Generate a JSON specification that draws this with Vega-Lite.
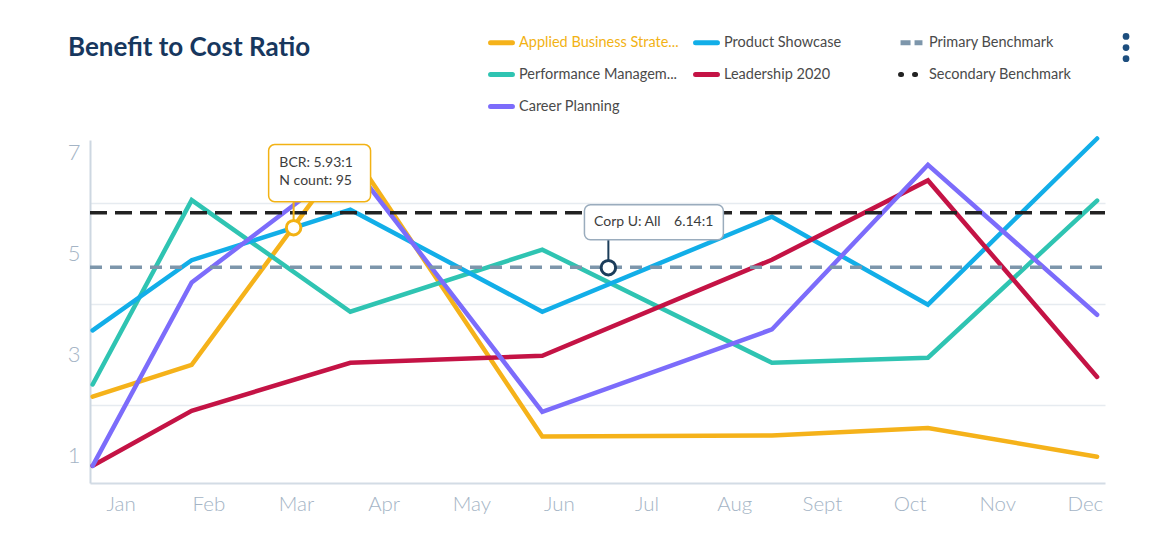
{
  "$schema": "https://vega.github.io/schema/vega-lite/v6.json",
  "width": 1015,
  "height": 343,
  "autosize": {"type": "none"},
  "padding": {"left": 90, "top": 140, "right": 44, "bottom": 54},
  "background": "white",
  "title": {
    "text": "Benefit to Cost Ratio",
    "anchor": "start",
    "frame": "group",
    "dx": -22,
    "offset": -53,
    "baseline": "alphabetic",
    "font": "Lato",
    "fontSize": 26,
    "fontWeight": "bold",
    "color": "#17375e"
  },
  "config": {
    "view": {"stroke": null},
    "font": "Lato",
    "axis": {"title": null, "ticks": false, "labelFont": "Lato"}
  },
  "datasets": {
    "series": [
      {"s": "Applied Business Strate...", "x": -0.32, "y": 2.16},
      {"s": "Applied Business Strate...", "x": 0.81, "y": 2.79},
      {"s": "Applied Business Strate...", "x": 2.62, "y": 7.05},
      {"s": "Applied Business Strate...", "x": 4.81, "y": 1.37},
      {"s": "Applied Business Strate...", "x": 7.43, "y": 1.39},
      {"s": "Applied Business Strate...", "x": 9.21, "y": 1.54},
      {"s": "Applied Business Strate...", "x": 11.14, "y": 0.97},
      {"s": "Performance Managem...", "x": -0.32, "y": 2.40},
      {"s": "Performance Managem...", "x": 0.81, "y": 6.05},
      {"s": "Performance Managem...", "x": 2.62, "y": 3.84},
      {"s": "Performance Managem...", "x": 4.81, "y": 5.07},
      {"s": "Performance Managem...", "x": 7.43, "y": 2.83},
      {"s": "Performance Managem...", "x": 9.21, "y": 2.93},
      {"s": "Performance Managem...", "x": 11.14, "y": 6.04},
      {"s": "Product Showcase", "x": -0.32, "y": 3.47},
      {"s": "Product Showcase", "x": 0.81, "y": 4.86},
      {"s": "Product Showcase", "x": 2.62, "y": 5.86},
      {"s": "Product Showcase", "x": 4.81, "y": 3.84},
      {"s": "Product Showcase", "x": 7.43, "y": 5.72},
      {"s": "Product Showcase", "x": 9.21, "y": 3.98},
      {"s": "Product Showcase", "x": 11.14, "y": 7.27},
      {"s": "Leadership 2020", "x": -0.32, "y": 0.79},
      {"s": "Leadership 2020", "x": 0.81, "y": 1.88},
      {"s": "Leadership 2020", "x": 2.62, "y": 2.83},
      {"s": "Leadership 2020", "x": 4.81, "y": 2.97},
      {"s": "Leadership 2020", "x": 7.43, "y": 4.87},
      {"s": "Leadership 2020", "x": 9.21, "y": 6.44},
      {"s": "Leadership 2020", "x": 11.14, "y": 2.55},
      {"s": "Career Planning", "x": -0.32, "y": 0.79},
      {"s": "Career Planning", "x": 0.81, "y": 4.42},
      {"s": "Career Planning", "x": 2.62, "y": 6.8},
      {"s": "Career Planning", "x": 4.81, "y": 1.86},
      {"s": "Career Planning", "x": 7.43, "y": 3.49},
      {"s": "Career Planning", "x": 9.21, "y": 6.75},
      {"s": "Career Planning", "x": 11.14, "y": 3.78}
    ],
    "bench": [
      {"s": "Primary Benchmark", "x": -0.35, "y": 4.72},
      {"s": "Primary Benchmark", "x": 11.23, "y": 4.72},
      {"s": "Secondary Benchmark", "x": -0.35, "y": 5.80},
      {"s": "Secondary Benchmark", "x": 11.23, "y": 5.80}
    ],
    "boxes": [
      {"id": "bcr", "x1": 1.688, "x2": 2.851, "y1": 7.149, "y2": 6.02, "px": 1.973, "py": 5.505, "line": "#f2b214"},
      {"id": "corp", "x1": 5.291, "x2": 6.876, "y1": 5.96, "y2": 5.267, "px": 5.564, "py": 4.713, "line": "#1c3d5a"}
    ],
    "labels": [
      {"t": "BCR: 5.93:1", "x": 1.81, "y": 6.79, "a": "left"},
      {"t": "N count: 95", "x": 1.81, "y": 6.42, "a": "left"},
      {"t": "Corp U: All", "x": 5.40, "y": 5.62, "a": "left"},
      {"t": "6.14:1", "x": 6.762, "y": 5.62, "a": "right"}
    ],
    "menu": [
      {"x": 11.47, "y": 9.29},
      {"x": 11.47, "y": 9.07},
      {"x": 11.47, "y": 8.85}
    ]
  },
  "layer": [
    {
      "data": {"name": "series"},
      "mark": {"type": "line", "strokeWidth": 4.5, "strokeJoin": "miter", "strokeCap": "round"},
      "encoding": {
        "x": {
          "field": "x", "type": "quantitative",
          "scale": {"domain": [-0.35, 11.23], "nice": false, "zero": false},
          "axis": {
            "values": [0, 1, 2, 3, 4, 5, 6, 7, 8, 9, 10, 11],
            "labelExpr": "['Jan','Feb','Mar','Apr','May','Jun','Jul','Aug','Sept','Oct','Nov','Dec'][datum.value]",
            "grid": false,
            "domainColor": "#d3dce5",
            "domainWidth": 2,
            "labelFontSize": 20.5,
            "labelFontWeight": 300,
            "labelColor": "#a4b4c5",
            "labelPadding": 11
          }
        },
        "y": {
          "field": "y", "type": "quantitative",
          "scale": {"domain": [0.45, 7.24], "nice": false, "zero": false},
          "axis": {
            "values": [1, 2, 3, 4, 5, 6, 7],
            "labelExpr": "datum.value % 2 === 1 ? datum.label : ''",
            "grid": true,
            "gridColor": "#e6ebf0",
            "gridWidth": 1.5,
            "gridOpacity": {"condition": {"test": "datum.value % 2 === 0", "value": 1}, "value": 0},
            "domainColor": "#cdd7e1",
            "domainWidth": 2,
            "labelFontSize": 22,
            "labelFontWeight": 300,
            "labelColor": "#a4b4c5",
            "labelPadding": 10
          }
        },
        "color": {
          "field": "s", "type": "nominal",
          "scale": {
            "domain": ["Applied Business Strate...", "Performance Managem...", "Secondary Benchmark", "Product Showcase", "Leadership 2020", "Career Planning", "Primary Benchmark"],
            "range": ["#f5b21a", "#2fc4b2", "#222222", "#12aee8", "#c41345", "#7c6cfb", "#7d96ab"]
          },
          "legend": {
            "title": null,
            "orient": "none",
            "legendX": 398,
            "legendY": -111,
            "columns": 3,
            "gridAlign": "all",
            "columnPadding": 6,
            "rowPadding": 8,
            "symbolType": "stroke",
            "symbolSize": 480,
            "symbolStrokeWidth": 5,
            "labelFont": "Lato",
            "labelFontSize": 14.5,
            "labelOffset": 4,
            "labelLimit": 300,
            "encode": {
              "symbols": {"update": {
                "strokeCap": {"signal": "datum.value === 'Primary Benchmark' ? 'butt' : 'round'"},
                "strokeDash": {"signal": "datum.value === 'Secondary Benchmark' ? [1, 13] : datum.value === 'Primary Benchmark' ? [10, 4] : [1, 0]"}
              }},
              "labels": {"update": {"fill": {"signal": "datum.value === 'Applied Business Strate...' ? '#f2b214' : '#4a4a4a'"}}}
            }
          }
        }
      }
    },
    {
      "data": {"name": "bench"},
      "transform": [{"filter": "datum.s === 'Primary Benchmark'"}],
      "mark": {"type": "line", "strokeWidth": 3.5, "strokeDash": [12, 8]},
      "encoding": {
        "x": {"field": "x", "type": "quantitative"},
        "y": {"field": "y", "type": "quantitative"},
        "color": {"field": "s", "type": "nominal"}
      }
    },
    {
      "data": {"name": "bench"},
      "transform": [{"filter": "datum.s === 'Secondary Benchmark'"}],
      "mark": {"type": "line", "strokeWidth": 3.5, "strokeDash": [17, 8]},
      "encoding": {
        "x": {"field": "x", "type": "quantitative"},
        "y": {"field": "y", "type": "quantitative"},
        "color": {"field": "s", "type": "nominal"}
      }
    },
    {
      "data": {"name": "boxes"},
      "mark": {"type": "rule", "strokeWidth": 2},
      "encoding": {
        "x": {"field": "px", "type": "quantitative"},
        "y": {"field": "y2", "type": "quantitative"},
        "y2": {"field": "py"},
        "color": {"field": "line", "type": "nominal", "scale": null, "legend": null}
      }
    },
    {
      "data": {"name": "boxes"},
      "mark": {"type": "rect", "fill": "white", "strokeWidth": 1.5, "cornerRadius": 6},
      "encoding": {
        "x": {"field": "x1", "type": "quantitative"},
        "x2": {"field": "x2"},
        "y": {"field": "y1", "type": "quantitative"},
        "y2": {"field": "y2"},
        "stroke": {"condition": {"test": "datum.id === 'bcr'", "value": "#f2b214"}, "value": "#9aacbd"}
      }
    },
    {
      "data": {"name": "boxes"},
      "mark": {"type": "point", "filled": true, "fill": "white", "size": 210, "strokeWidth": 3, "opacity": 1},
      "encoding": {
        "x": {"field": "px", "type": "quantitative"},
        "y": {"field": "py", "type": "quantitative"},
        "stroke": {"field": "line", "type": "nominal", "scale": null, "legend": null}
      }
    },
    {
      "data": {"name": "labels"},
      "transform": [{"filter": "datum.a === 'left'"}],
      "mark": {"type": "text", "font": "Lato", "fontSize": 14, "color": "#3d3d3d", "baseline": "middle", "align": "left"},
      "encoding": {
        "x": {"field": "x", "type": "quantitative"},
        "y": {"field": "y", "type": "quantitative"},
        "text": {"field": "t"}
      }
    },
    {
      "data": {"name": "labels"},
      "transform": [{"filter": "datum.a === 'right'"}],
      "mark": {"type": "text", "font": "Lato", "fontSize": 14, "color": "#3d3d3d", "baseline": "middle", "align": "right"},
      "encoding": {
        "x": {"field": "x", "type": "quantitative"},
        "y": {"field": "y", "type": "quantitative"},
        "text": {"field": "t"}
      }
    },
    {
      "data": {"name": "menu"},
      "mark": {"type": "point", "filled": true, "size": 45, "color": "#1d4e7e", "opacity": 1, "clip": false},
      "encoding": {
        "x": {"field": "x", "type": "quantitative"},
        "y": {"field": "y", "type": "quantitative"}
      }
    }
  ]
}
